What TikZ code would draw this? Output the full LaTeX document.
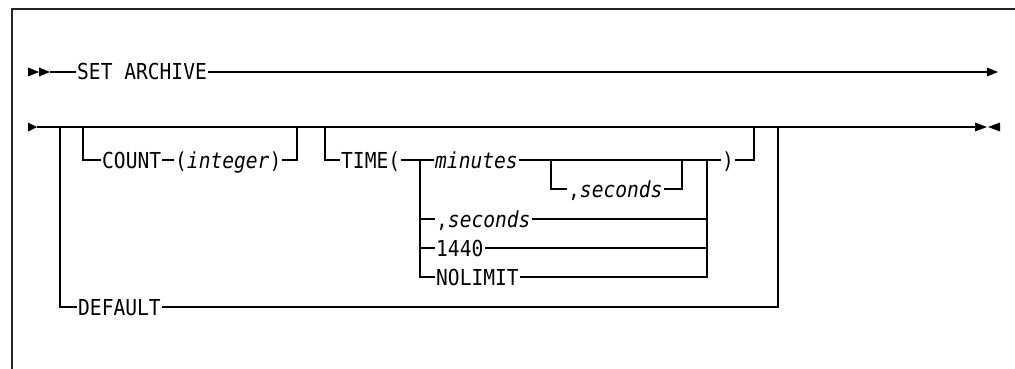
\documentclass[tikz,border=0pt]{standalone}
\usepackage{fontspec}
\newfontfamily\rrfont[FakeStretch=0.89]{DejaVu Sans Mono}
\usetikzlibrary{arrows.meta}
\begin{document}
\begin{tikzpicture}[x=1pt,y=-1pt,
  rail/.style={line width=1.3pt},
  frame/.style={line width=1.6pt, black!85},
  lbl/.style={inner xsep=1pt, inner ysep=0pt, anchor=west,
    font=\rrfont\fontsize{22}{26}\selectfont, text height=17.8pt, text depth=1.8pt},
  tip/.style={fill=black}]
\useasboundingbox (0,0) rectangle (1015,369);
% frame
\draw[frame] (12,369) -- (12,9) -- (1015,9);

% ---------- row 1 ----------
\fill[tip] (28,67.5) -- (39,72) -- (28,76.5) -- cycle;
\fill[tip] (39,67.5) -- (50,72) -- (39,76.5) -- cycle;
\coordinate (r1s) at (50,72);
\coordinate (r1e) at (987,72);
\node[lbl] (set) at (76,72) {SET ARCHIVE};
\draw[rail] (r1s) -- (set.west);
\draw[rail] (set.east) -- (r1e);
\fill[tip] (987,67.5) -- (998,72) -- (987,76.5) -- cycle;

% ---------- row 2 ----------
\fill[tip] (28,122.5) -- (37,127) -- (28,131.5) -- cycle;
\coordinate (r2s) at (37,127);
\coordinate (r2e) at (975,127);
\draw[rail] (r2s) -- (r2e);
\fill[tip] (975,122.5) -- (987,127) -- (975,131.5) -- cycle;
\fill[tip] (1000,122.5) -- (988,127) -- (1000,131.5) -- cycle;

% junction points on main line
\coordinate (dL) at (60,127);
\coordinate (dR) at (778,127);
\coordinate (cL) at (83,127);
\coordinate (cR) at (297,127);
\coordinate (tL) at (325,127);
\coordinate (tR) at (754,127);

% DEFAULT
\node[lbl] (default) at (77,307) {DEFAULT};
\draw[rail] (dL) |- (default.west);
\draw[rail] (default.east) -| (dR);

% COUNT
\node[lbl] (count) at (101,160) {COUNT};
\node[lbl] (integer) at (174,160) {(\textit{integer})};
\draw[rail] (cL) |- (count.west);
\draw[rail] (count.east) -- (integer.west);
\draw[rail] (integer.east) -| (cR);

% TIME
\node[lbl] (time) at (340,160) {TIME(};
\coordinate (aL) at (420,160);
\coordinate (aR) at (707,160);
\node[lbl] (minutes) at (434,160) {\textit{minutes}};
\coordinate (sL) at (551,160);
\coordinate (sR) at (682,160);
\node[lbl] (sec1) at (567,189) {,\textit{seconds}};
\node[lbl] (sec2) at (435,219) {,\textit{seconds}};
\node[lbl] (n1440) at (435,248) {1440};
\node[lbl] (nolimit) at (435,277) {NOLIMIT};
\node[lbl] (rparen) at (721,160) {)};

\draw[rail] (tL) |- (time.west);
\draw[rail] (time.east) -- (aL) -- (minutes.west);
\draw[rail] (minutes.east) -- (aR);
\draw[rail] (sL) |- (sec1.west);
\draw[rail] (sec1.east) -| (sR);
\draw[rail] (aL) |- (sec2.west);
\draw[rail] (aL) |- (n1440.west);
\draw[rail] (aL) |- (nolimit.west);
\draw[rail] (sec2.east) -| (aR);
\draw[rail] (n1440.east) -| (aR);
\draw[rail] (nolimit.east) -| (aR);
\draw[rail] (aR) -- (rparen.west);
\draw[rail] (rparen.east) -| (tR);
\end{tikzpicture}
\end{document}
